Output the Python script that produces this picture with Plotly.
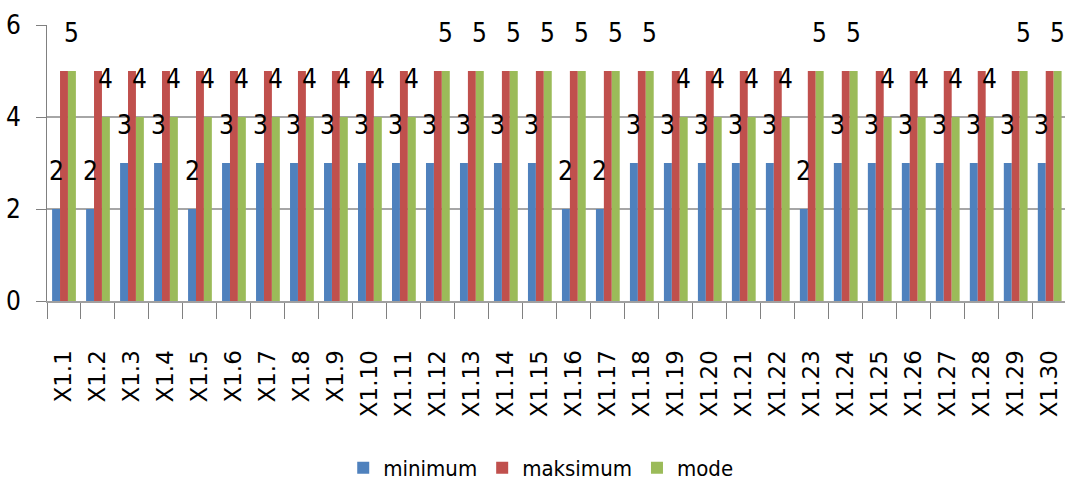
import plotly.graph_objects as go

# Indicator labels along the horizontal axis
categories = [
    "X1.1", "X1.2", "X1.3", "X1.4", "X1.5", "X1.6", "X1.7", "X1.8", "X1.9", "X1.10",
    "X1.11", "X1.12", "X1.13", "X1.14", "X1.15", "X1.16", "X1.17", "X1.18", "X1.19", "X1.20",
    "X1.21", "X1.22", "X1.23", "X1.24", "X1.25", "X1.26", "X1.27", "X1.28", "X1.29", "X1.30",
]

# Score statistics per indicator
minimum = [2, 2, 3, 3, 2, 3, 3, 3, 3, 3, 3, 3, 3, 3, 3, 2, 2, 3, 3, 3, 3, 3, 2, 3, 3, 3, 3, 3, 3, 3]
maksimum = [5, 5, 5, 5, 5, 5, 5, 5, 5, 5, 5, 5, 5, 5, 5, 5, 5, 5, 5, 5, 5, 5, 5, 5, 5, 5, 5, 5, 5, 5]
mode = [5, 4, 4, 4, 4, 4, 4, 4, 4, 4, 4, 5, 5, 5, 5, 5, 5, 5, 4, 4, 4, 4, 5, 5, 4, 4, 4, 4, 5, 5]

y_ticks = [0, 2, 4, 6]

BLUE = "#4F81BD"
RED = "#C0504D"
GREEN = "#9BBB59"
FONT = "DejaVu Sans Condensed, Liberation Sans Narrow, DejaVu Sans, sans-serif"

BARGAP = 0.3
series = [
    ("minimum", minimum, BLUE, True),
    ("maksimum", maksimum, RED, False),
    ("mode", mode, GREEN, True),
]

fig = go.Figure()
for name, values, color, _ in series:
    fig.add_trace(go.Bar(
        x=categories, y=values, name=name,
        marker=dict(color=color, line=dict(width=0)),
    ))

# Value labels for the minimum and mode series, centred over their bars
bar_w = (1 - BARGAP) / len(series)
annotations = []
for k, (name, values, color, labelled) in enumerate(series):
    if not labelled:
        continue
    offset = (k - (len(series) - 1) / 2) * bar_w
    for i, v in enumerate(values):
        annotations.append(dict(
            x=i + offset, y=v, xref="x", yref="y",
            text=str(v), showarrow=False,
            yanchor="middle", yshift=38,
            font=dict(family=FONT, size=26, color="black"),
        ))

fig.update_layout(
    width=1065, height=489,
    margin=dict(l=47, r=0, t=25, b=187),
    paper_bgcolor="white", plot_bgcolor="white",
    barmode="group", bargap=BARGAP, bargroupgap=0,
    showlegend=True,
    legend=dict(
        orientation="h", x=0.485, xanchor="center", y=-0.607, yanchor="middle",
        font=dict(family=FONT, size=22, color="black"),
        itemwidth=30, tracegroupgap=0,
    ),
    annotations=annotations,
)

fig.update_xaxes(
    type="category", range=[-0.5, 29.45],
    tickangle=-90, tickson="boundaries",
    ticks="outside", ticklen=16, tickcolor="#808080", tickwidth=1,
    showline=True, linecolor="#a0a0a0", linewidth=2,
    showgrid=False,
    ticklabelstandoff=38,
    tickfont=dict(family="DejaVu Sans", size=23, color="black"),
)

fig.update_yaxes(
    range=[0, 6], tickvals=y_ticks,
    ticks="outside", ticklen=10, tickcolor="#808080", tickwidth=1,
    showline=True, linecolor="#808080", linewidth=1,
    showgrid=True, gridcolor="#a6a6a6", gridwidth=2,
    zeroline=False,
    ticklabelstandoff=10,
    tickfont=dict(family=FONT, size=26, color="black"),
)

fig.write_html("out.html")
